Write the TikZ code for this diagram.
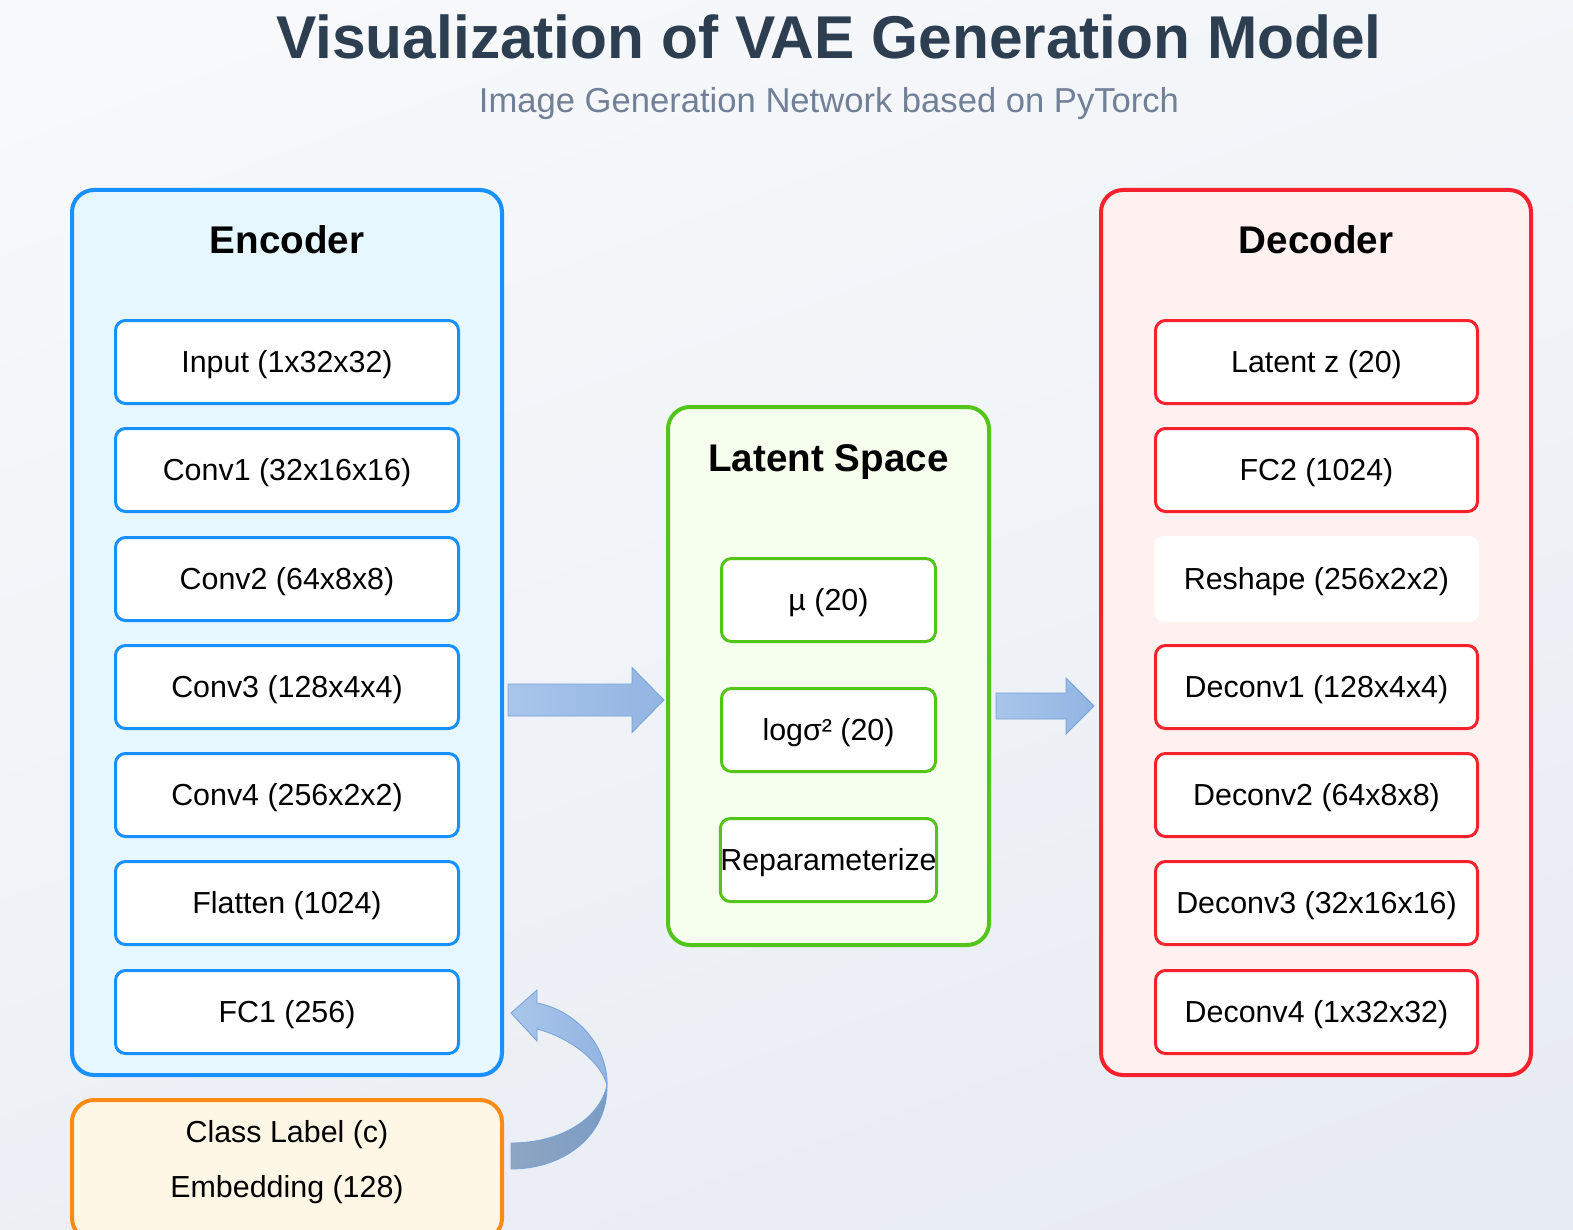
\documentclass[tikz,border=0pt]{standalone}
\usepackage{fontspec}
\setmainfont{Liberation Sans}
\usetikzlibrary{calc}

\definecolor{encblue}{HTML}{1890FF}
\definecolor{encfill}{HTML}{E6F7FF}
\definecolor{latgreen}{HTML}{52C41A}
\definecolor{latfill}{HTML}{F6FFED}
\definecolor{decred}{HTML}{F5222D}
\definecolor{decfill}{HTML}{FFF1F0}
\definecolor{clsorange}{HTML}{FA8C16}
\definecolor{clsfill}{HTML}{FFF7E6}
\definecolor{titlecol}{HTML}{2C3E50}
\definecolor{subcol}{HTML}{718096}
\definecolor{bgtop}{HTML}{F7F9FB}
\definecolor{bgbot}{HTML}{E8ECF3}
\definecolor{arrowA}{HTML}{A9C5EA}
\definecolor{arrowB}{HTML}{93B5E2}
\definecolor{arrowC}{HTML}{8EA6C2}
\definecolor{arrowD}{HTML}{7B9CC3}
\definecolor{arrowline}{HTML}{74A2D9}

\tikzset{
  panel/.style={draw, line width=2pt, rounded corners=11pt, minimum width=215pt, minimum height=442.5pt, inner sep=0pt},
  paneltitle/.style={anchor=base, inner sep=0pt, font=\bfseries\fontsize{19.3}{23}\selectfont},
  layer/.style={draw, line width=1.5pt, rounded corners=5pt, fill=white, minimum width=171.5pt, minimum height=41.5pt, inner sep=0pt, text height=10.9pt, text depth=0pt, font=\fontsize{15.2}{18}\selectfont},
  enclayer/.style={layer, draw=encblue},
  latlayer/.style={layer, draw=latgreen, minimum width=107pt},
  declayer/.style={layer, draw=decred, minimum width=161pt},
  plaintext/.style={anchor=base, inner sep=0pt, font=\fontsize{15.2}{18}\selectfont},
  blockarrow/.style={draw=arrowline, line width=0.4pt, left color=arrowA, right color=arrowB},
}

\begin{document}
\begin{tikzpicture}[x=0.5pt, y=-0.5pt]
      \useasboundingbox (0,0) rectangle (1573,1230);
      \clip (0,0) rectangle (1573,1230);
      \shade[top color=bgtop, bottom color=bgbot, shading angle=20] (-100,-100) rectangle (1673,1330);

      \node[anchor=base, inner sep=0pt, text=titlecol, font=\bfseries\fontsize{30.2}{36}\selectfont] (title) at (829,59) {Visualization of VAE Generation Model};
      \node[anchor=base, inner sep=0pt, text=subcol, font=\fontsize{17.3}{21}\selectfont] (subtitle) at (829,113) {Image Generation Network based on PyTorch};

      \node[panel, draw=encblue, fill=encfill] (enc) at (287,632.5) {};
      \node[paneltitle] (enctitle) at (287,254) {Encoder};
      \node[enclayer] (input) at (287,362) {Input (1x32x32)};
      \node[enclayer] (conv1) at (287,470) {Conv1 (32x16x16)};
      \node[enclayer] (conv2) at (287,579) {Conv2 (64x8x8)};
      \node[enclayer] (conv3) at (287,687) {Conv3 (128x4x4)};
      \node[enclayer] (conv4) at (287,795) {Conv4 (256x2x2)};
      \node[enclayer] (flatten) at (287,903) {Flatten (1024)};
      \node[enclayer] (fc1) at (287,1012) {FC1 (256)};

      \node[panel, draw=latgreen, fill=latfill, minimum width=160.5pt, minimum height=269pt] (lat) at (828.5,676) {};
      \node[paneltitle] (lattitle) at (828.5,471) {Latent Space};
      \node[latlayer] (mu) at (828.5,600) {µ (20)};
      \node[latlayer] (logvar) at (828.5,730) {logσ² (20)};
      \node[latlayer] (reparam) at (828.5,860) {Reparameterize};

      \node[panel, draw=decred, fill=decfill] (dec) at (1316,632.5) {};
      \node[paneltitle] (dectitle) at (1316,254) {Decoder};
      \node[declayer] (latz) at (1316.5,362) {Latent z (20)};
      \node[declayer] (fc2) at (1316.5,470) {FC2 (1024)};
      \node[declayer, draw=none, minimum width=162.5pt, minimum height=43pt] (reshape) at (1316.5,579) {Reshape (256x2x2)};
      \node[declayer] (deconv1) at (1316.5,687) {Deconv1 (128x4x4)};
      \node[declayer] (deconv2) at (1316.5,795) {Deconv2 (64x8x8)};
      \node[declayer] (deconv3) at (1316.5,903) {Deconv3 (32x16x16)};
      \node[declayer] (deconv4) at (1316.5,1012) {Deconv4 (1x32x32)};

      \node[panel, draw=clsorange, fill=clsfill, minimum height=70pt] (cls) at (287,1170) {};
      \node[plaintext] (clslabel) at (287,1142) {Class Label (c)};
      \node[plaintext] (clsembed) at (287,1197) {Embedding (128)};

      \coordinate (a1s) at ($(enc.east)+(4,67.5)$);
      \coordinate (a1t) at ($(lat.west |- a1s)+(-2,0)$);
      \draw[blockarrow] ($(a1s)+(0,-16)$) -- ($(a1t)+(-32,-16)$) -- ($(a1t)+(-32,-32.5)$) -- (a1t)
        -- ($(a1t)+(-32,32.5)$) -- ($(a1t)+(-32,16)$) -- ($(a1s)+(0,16)$) -- cycle;

      \coordinate (a2s) at ($(lat.east)+(5,30)$);
      \coordinate (a2t) at ($(dec.west |- a2s)+(-5,0)$);
      \draw[blockarrow] ($(a2s)+(0,-13)$) -- ($(a2t)+(-28,-13)$) -- ($(a2t)+(-28,-28)$) -- (a2t)
        -- ($(a2t)+(-28,28)$) -- ($(a2t)+(-28,13)$) -- ($(a2s)+(0,13)$) -- cycle;

      \coordinate (ctip) at ($(fc1.east -| enc.east)+(7,1)$);
      \coordinate (cbase) at ($(cls.east |- clslabel.base)+(7,14)$);
      \coordinate (cturn) at (607,1085);
      \draw[draw=arrowline, line width=0.4pt, left color=arrowC, right color=arrowD]
        (cturn) .. controls (608,1135) and (565,1169) .. ($(cbase)+(0,13)$) -- ($(cbase)+(0,-13)$)
        .. controls (562,1143) and (600,1118) .. (cturn) -- cycle;
      \draw[blockarrow]
        ($(ctip)+(26,-23)$) -- (ctip) -- ($(ctip)+(26,28)$) -- ($(ctip)+(26,16)$)
        .. controls (568,1037) and (600,1060) .. (cturn)
        .. controls (608,1045) and (575,1010) .. ($(ctip)+(26,-10)$) -- cycle;
\end{tikzpicture}
\end{document}
